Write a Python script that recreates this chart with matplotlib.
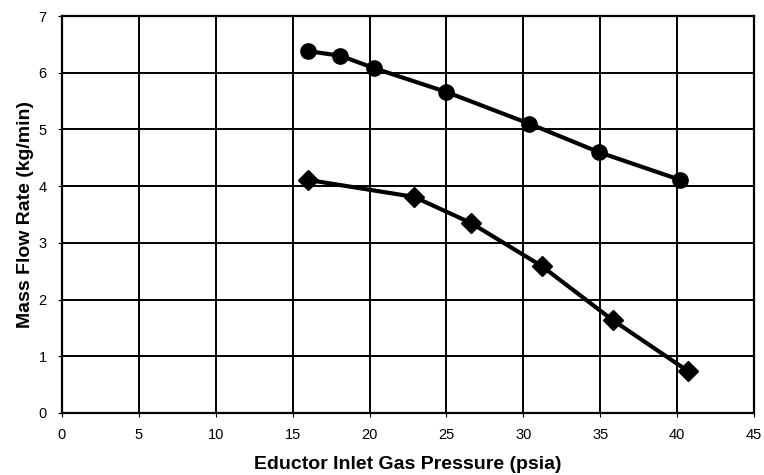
import matplotlib
matplotlib.use("Agg")
import matplotlib.pyplot as plt

circle_x = [16.0, 18.1, 20.3, 25.0, 30.4, 34.9, 40.2]
circle_y = [6.38, 6.30, 6.08, 5.66, 5.10, 4.60, 4.11]
diamond_x = [16.0, 22.9, 26.6, 31.2, 35.8, 40.7]
diamond_y = [4.11, 3.81, 3.35, 2.59, 1.64, 0.74]
xticks = [0, 5, 10, 15, 20, 25, 30, 35, 40, 45]
yticks = [0, 1, 2, 3, 4, 5, 6, 7]

plt.rcParams['font.family'] = ['Liberation Sans', 'DejaVu Sans']
fig = plt.figure(figsize=(7.64, 4.75), dpi=100)
ax = fig.add_axes([62/764, 1-413/475, (754-62)/764, (413-16)/475])

ax.plot(circle_x, circle_y, color='black', lw=3, marker='o', ms=11, zorder=3)
ax.plot(diamond_x, diamond_y, color='black', lw=3, marker='D', ms=10, zorder=3)

ax.set_xlim(0, 45)
ax.set_ylim(0, 7)
ax.set_xticks(xticks)
ax.set_yticks(yticks)
ax.grid(True, color='black', lw=1.4)
ax.set_axisbelow(True)
for s in ax.spines.values():
    s.set_color('black')
    s.set_linewidth(1.6)
ax.tick_params(axis='both', labelsize=10.5, length=3, color='black')
ax.tick_params(axis='x', pad=8)
ax.tick_params(axis='y', pad=8)
ax.set_xlabel('Eductor Inlet Gas Pressure (psia)', fontsize=14, fontweight='bold', labelpad=10)
ax.set_ylabel('Mass Flow Rate (kg/min)', fontsize=14, fontweight='bold', labelpad=3)

fig.savefig('out.png', dpi=100)
